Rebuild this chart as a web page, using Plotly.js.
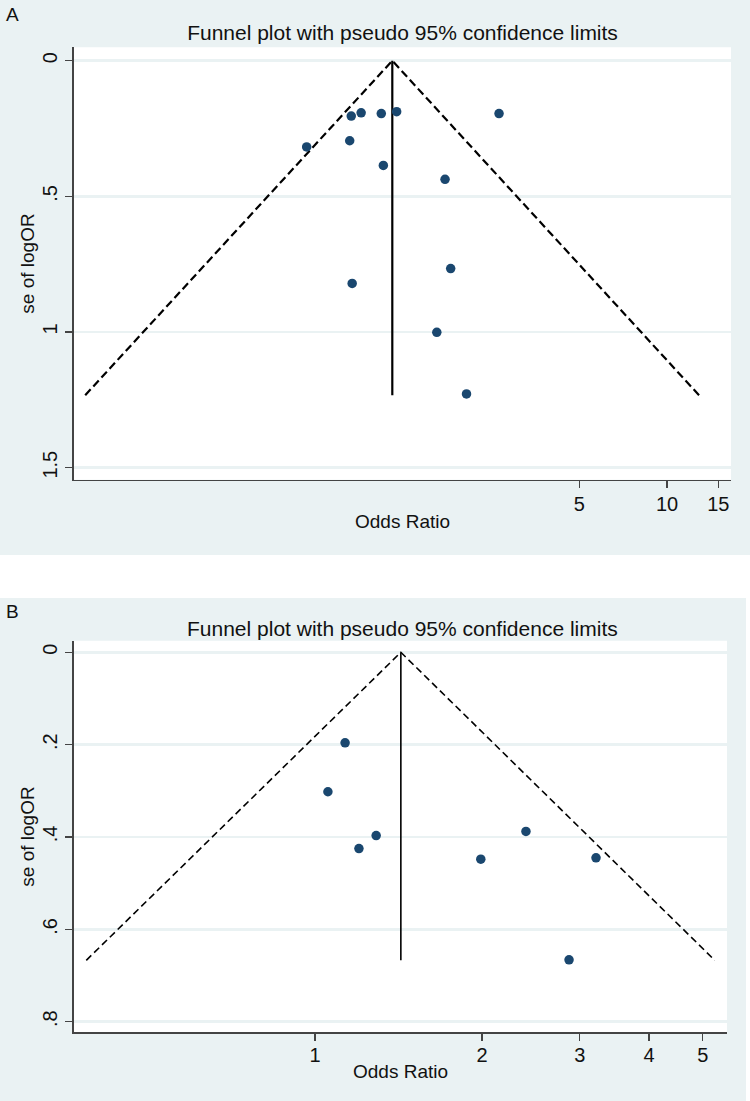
<!DOCTYPE html>
<html>
<head>
<meta charset="utf-8">
<script src="https://cdn.plot.ly/plotly-3.0.1.min.js"></script>
<style>html,body{margin:0;padding:0;background:#fff;}#chart{width:750px;height:1101px;}</style>
</head>
<body>
<div id="chart"></div>
<script>
// ---- Panel A data ----
const orA = [0.825, 0.892, 1.046, 1.181, 2.652, 0.815, 0.580, 1.063, 1.731, 1.810, 0.831, 1.622, 2.051];
const seA = [0.204, 0.192, 0.195, 0.188, 0.195, 0.295, 0.318, 0.386, 0.437, 0.766, 0.821, 1.001, 1.228];
const funnelOrA = [0.1008, 1.141, 12.88];
const funnelSeA = [1.233, 0, 1.233];
const pooledOrA = [1.141, 1.141];
const pooledSeA = [0, 1.233];
const xTickValsA = [5, 10, 15];
const xTickTextA = ['5', '10', '15'];
const yTickValsA = [0, 0.5, 1, 1.5];
const yTickTextA = ['0', '.5', '1', '1.5'];

// ---- Panel B data ----
const orB = [1.133, 1.055, 1.289, 1.200, 2.40, 1.99, 3.21, 2.87];
const seB = [0.196, 0.302, 0.397, 0.425, 0.388, 0.448, 0.445, 0.666];
const funnelOrB = [0.387, 1.428, 5.255];
const funnelSeB = [0.667, 0, 0.667];
const pooledOrB = [1.428, 1.428];
const pooledSeB = [0, 0.667];
const xTickValsB = [1, 2, 3, 4, 5];
const xTickTextB = ['1', '2', '3', '4', '5'];
const yTickValsB = [0, 0.2, 0.4, 0.6, 0.8];
const yTickTextB = ['0', '.2', '.4', '.6', '.8'];

const titleText = 'Funnel plot with pseudo 95% confidence limits';
const BG = '#eaf2f3';
const NAVY = '#1a476f';
const FONT = '"Liberation Sans", Arial, Helvetica, sans-serif';
const W = 750, H = 1101;
const py = v => 1 - v / H;
const px = v => v / W;

const traces = [
  {x: funnelOrA, y: funnelSeA, xaxis: 'x', yaxis: 'y', mode: 'lines', type: 'scatter',
   line: {color: '#000', width: 2.2, dash: '8px,4px'}, hoverinfo: 'skip', showlegend: false},
  {x: pooledOrA, y: pooledSeA, xaxis: 'x', yaxis: 'y', mode: 'lines', type: 'scatter',
   line: {color: '#000', width: 2.2}, hoverinfo: 'skip', showlegend: false},
  {x: orA, y: seA, xaxis: 'x', yaxis: 'y', mode: 'markers', type: 'scatter',
   marker: {color: NAVY, size: 9.5}, showlegend: false},
  {x: funnelOrB, y: funnelSeB, xaxis: 'x2', yaxis: 'y2', mode: 'lines', type: 'scatter',
   line: {color: '#000', width: 1.6, dash: '7px,4px'}, hoverinfo: 'skip', showlegend: false},
  {x: pooledOrB, y: pooledSeB, xaxis: 'x2', yaxis: 'y2', mode: 'lines', type: 'scatter',
   line: {color: '#000', width: 1.6}, hoverinfo: 'skip', showlegend: false},
  {x: orB, y: seB, xaxis: 'x2', yaxis: 'y2', mode: 'markers', type: 'scatter',
   marker: {color: NAVY, size: 9.5}, showlegend: false}
];

const axisCommon = {
  showline: true, linecolor: '#444', linewidth: 1.6,
  ticks: 'outside', ticklen: 7, tickwidth: 1.3, tickcolor: '#444',
  tickfont: {family: FONT, size: 20, color: '#111'},
  zeroline: false, automargin: false, fixedrange: true
};

const layout = {
  width: W, height: H,
  margin: {l: 0, r: 0, t: 0, b: 0, pad: 0},
  paper_bgcolor: '#ffffff',
  plot_bgcolor: '#ffffff',
  showlegend: false,
  font: {family: FONT, color: '#111'},
  title: {text: titleText, font: {family: FONT, size: 21, color: '#111'},
          x: 402.5 / W, xref: 'paper', xanchor: 'center', y: py(33), yref: 'paper', yanchor: 'middle'},
  xaxis: Object.assign({}, axisCommon, {
    type: 'log', domain: [px(74), px(731)], range: [-1.035, 1.2196],
    anchor: 'y', tickmode: 'array', tickvals: xTickValsA, ticktext: xTickTextA,
    showgrid: false, ticklabelstandoff: -1,
    title: {text: 'Odds Ratio', font: {family: FONT, size: 19, color: '#111'}, standoff: 0}
  }),
  yaxis: Object.assign({}, axisCommon, {
    domain: [py(479.7), py(47.3)], range: [1.5443, -0.0494],
    anchor: 'x', tickmode: 'array', tickvals: yTickValsA, ticktext: yTickTextA,
    tickangle: -90, showgrid: true, gridcolor: BG, gridwidth: 2.5,
    title: {text: 'se of logOR', font: {family: FONT, size: 19, color: '#111'}, standoff: 0}
  }),
  xaxis2: Object.assign({}, axisCommon, {
    type: 'log', domain: [px(74), px(727)], range: [-0.4344, 0.7426],
    anchor: 'y2', tickmode: 'array', tickvals: xTickValsB, ticktext: xTickTextB,
    showgrid: false, ticklabelstandoff: -3,
    title: {text: 'Odds Ratio', font: {family: FONT, size: 19, color: '#111'}, standoff: 0}
  }),
  yaxis2: Object.assign({}, axisCommon, {
    domain: [py(1032.3), py(640.7)], range: [0.8229, -0.0251],
    anchor: 'x2', tickmode: 'array', tickvals: yTickValsB, ticktext: yTickTextB,
    tickangle: -90, showgrid: true, gridcolor: BG, gridwidth: 2.5,
    title: {text: 'se of logOR', font: {family: FONT, size: 19, color: '#111'}, standoff: 0}
  }),
  shapes: [
    {type: 'rect', xref: 'paper', yref: 'paper', x0: 0, x1: 1, y0: py(555), y1: 1,
     fillcolor: BG, line: {width: 0}, layer: 'below'},
    {type: 'rect', xref: 'paper', yref: 'paper', x0: 0, x1: px(746), y0: 0, y1: py(598),
     fillcolor: BG, line: {width: 0}, layer: 'below'},
    {type: 'rect', xref: 'paper', yref: 'paper', x0: px(74), x1: px(731), y0: py(479.7), y1: py(47.3),
     fillcolor: '#ffffff', line: {width: 0}, layer: 'below'},
    {type: 'rect', xref: 'paper', yref: 'paper', x0: px(74), x1: px(727), y0: py(1032.3), y1: py(640.7),
     fillcolor: '#ffffff', line: {width: 0}, layer: 'below'}
  ],
  annotations: [
    {text: 'A', xref: 'paper', yref: 'paper', x: px(12), y: py(14.5), xanchor: 'center', yanchor: 'middle',
     showarrow: false, font: {family: FONT, size: 19, color: '#111'}},
    {text: 'B', xref: 'paper', yref: 'paper', x: px(12.5), y: py(611.7), xanchor: 'center', yanchor: 'middle',
     showarrow: false, font: {family: FONT, size: 19, color: '#111'}},
    {text: titleText, xref: 'paper', yref: 'paper', x: px(402.5), y: py(628.3), xanchor: 'center', yanchor: 'middle',
     showarrow: false, font: {family: FONT, size: 21, color: '#111'}}
  ]
};

Plotly.newPlot('chart', traces, layout, {staticPlot: true, displayModeBar: false});
</script>
</body>
</html>
